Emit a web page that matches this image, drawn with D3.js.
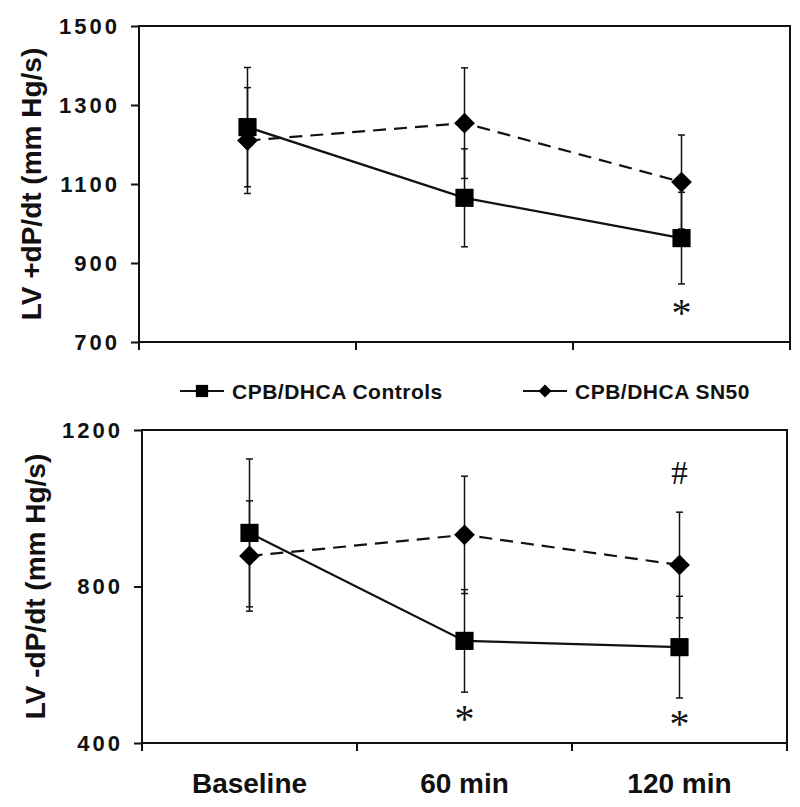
<!DOCTYPE html>
<html><head><meta charset="utf-8">
<script src="https://cdn.jsdelivr.net/npm/d3@7"></script>
<style>body{margin:0;background:#fff}svg{display:block}</style>
</head><body>
<svg id="c" width="800" height="807"></svg>
<script>
const categories = ["Baseline", "60 min", "120 min"];
const seriesNames = ["CPB/DHCA Controls", "CPB/DHCA SN50"];
// Top panel: LV +dP/dt
const topControls = [1244, 1065, 963];
const topControlsErr = [151, 124, 116];
const topSN50 = [1210, 1254, 1105];
const topSN50Err = [134, 140, 119];
const topTicks = [700, 900, 1100, 1300, 1500];
// Bottom panel: LV -dP/dt
const botControls = [937, 661, 645];
const botControlsErr = [189, 131, 130];
const botSN50 = [878, 932, 855];
const botSN50Err = [141, 150, 135];
const botTicks = [400, 800, 1200];
// significance markers: [category index, value position, symbol]
const topMarks = [[2, 789, "*"]];
const botMarks = [[1, 477, "*"], [2, 464, "*"], [2, 1090, "#"]];

const svg = d3.select("#c");
const sans = "'Liberation Sans', Arial, sans-serif";
const serif = "'Liberation Serif', 'Times New Roman', serif";

function panel(opt) {
  const x = d3.scaleBand().domain(categories).range([opt.x0, opt.x1]);
  const y = d3.scaleLinear().domain(opt.domain).range([opt.y1, opt.y0]);
  const g = svg.append("g");
  // frame
  g.append("rect").attr("x", opt.x0).attr("y", opt.y0)
    .attr("width", opt.x1 - opt.x0).attr("height", opt.y1 - opt.y0)
    .attr("fill", "none").attr("stroke", "#111").attr("stroke-width", 2);
  // y axis
  const ya = g.append("g").attr("transform", `translate(${opt.x0},0)`)
    .call(d3.axisLeft(y).tickValues(opt.ticks).tickSize(8).tickSizeOuter(0).tickFormat(d3.format("d")));
  ya.select(".domain").remove();
  ya.selectAll("line").attr("stroke", "#111").attr("stroke-width", 2);
  ya.selectAll("text").attr("font-family", sans).attr("font-weight", "bold")
    .attr("font-size", 22).attr("letter-spacing", 3).attr("x", -19).attr("fill", "#111");
  // x ticks at band boundaries
  const bounds = categories.map(c => x(c)).concat([x(categories[categories.length - 1]) + x.bandwidth()]);
  g.selectAll(".xt").data(bounds).join("line")
    .attr("x1", d => d).attr("x2", d => d).attr("y1", opt.y1).attr("y2", opt.y1 + 8)
    .attr("stroke", "#111").attr("stroke-width", 2);
  // y title
  g.append("text").attr("transform", `translate(${opt.titleX},${(opt.y0 + opt.y1) / 2}) rotate(-90)`)
    .attr("text-anchor", "middle").attr("font-family", sans).attr("font-weight", "bold")
    .attr("font-size", 28).attr("fill", "#111").text(opt.title);

  const cx = c => x(c) + x.bandwidth() / 2;
  const series = [
    {vals: opt.controls, err: opt.controlsErr, dash: null, shape: "square"},
    {vals: opt.sn50, err: opt.sn50Err, dash: "13,8", shape: "diamond"}
  ];
  // error bars
  series.forEach(s => {
    categories.forEach((c, i) => {
      const xx = cx(c);
      const hi = y(s.vals[i] + s.err[i]), lo = y(s.vals[i] - s.err[i]);
      g.append("line").attr("x1", xx).attr("x2", xx).attr("y1", hi).attr("y2", lo)
        .attr("stroke", "#111").attr("stroke-width", 1.5);
      [hi, lo].forEach(v => g.append("line").attr("x1", xx - 3.5).attr("x2", xx + 3.5)
        .attr("y1", v).attr("y2", v).attr("stroke", "#111").attr("stroke-width", 1.5));
    });
  });
  // lines
  series.forEach(s => {
    const line = d3.line().x((d, i) => cx(categories[i])).y(d => y(d));
    g.append("path").attr("d", line(s.vals)).attr("fill", "none")
      .attr("stroke", "#111").attr("stroke-width", 2.2)
      .attr("stroke-dasharray", s.dash);
  });
  // markers
  series.forEach(s => {
    const sq = s.shape === "square";
    g.selectAll(null).data(s.vals).join("path")
      .attr("d", d3.symbol().type(d3.symbolSquare).size(sq ? 330 : 215))
      .attr("transform", (d, i) => `translate(${cx(categories[i])},${y(d)})` + (sq ? "" : " rotate(45)"))
      .attr("fill", "#000");
  });
  // significance marks
  opt.marks.forEach(m => {
    const ast = m[2] === "*";
    g.append("text").attr("x", cx(categories[m[0]])).attr("y", y(m[1]))
      .attr("text-anchor", "middle")
      .attr("font-family", serif)
      .attr("font-size", ast ? 40 : 33).attr("fill", "#111")
      .attr("dy", ast ? "0.47em" : "0.34em")
      .text(m[2]);
  });
}

panel({x0: 139, x1: 790, y0: 26, y1: 342, domain: [700, 1500], ticks: topTicks,
  controls: topControls, controlsErr: topControlsErr, sn50: topSN50, sn50Err: topSN50Err,
  title: "LV +dP/dt (mm Hg/s)", titleX: 41, marks: topMarks});
panel({x0: 142, x1: 787, y0: 430, y1: 743, domain: [400, 1200], ticks: botTicks,
  controls: botControls, controlsErr: botControlsErr, sn50: botSN50, sn50Err: botSN50Err,
  title: "LV -dP/dt (mm Hg/s)", titleX: 45, marks: botMarks});

// x category labels (bottom panel)
const xb = d3.scaleBand().domain(categories).range([142, 787]);
svg.selectAll(".xl").data(categories).join("text")
  .attr("x", d => xb(d) + xb.bandwidth() / 2).attr("y", 793)
  .attr("text-anchor", "middle").attr("font-family", sans).attr("font-weight", "bold")
  .attr("font-size", 28).attr("fill", "#111").text(d => d);

// legend
const leg = [{x: 180, sq: true, name: seriesNames[0]},
             {x: 523, sq: false, name: seriesNames[1]}];
leg.forEach(l => {
  svg.append("line").attr("x1", l.x).attr("x2", l.x + 44).attr("y1", 391).attr("y2", 391)
    .attr("stroke", "#111").attr("stroke-width", 2);
  svg.append("path").attr("d", d3.symbol().type(d3.symbolSquare).size(l.sq ? 150 : 85)())
    .attr("transform", `translate(${l.x + 22},391)` + (l.sq ? "" : " rotate(45)")).attr("fill", "#000");
  svg.append("text").attr("x", l.x + 52).attr("y", 391).attr("dy", "0.36em")
    .attr("font-family", sans).attr("font-weight", "bold").attr("font-size", 21)
    .attr("letter-spacing", 0.5).attr("fill", "#111").text(l.name);
});
</script>
</body></html>
